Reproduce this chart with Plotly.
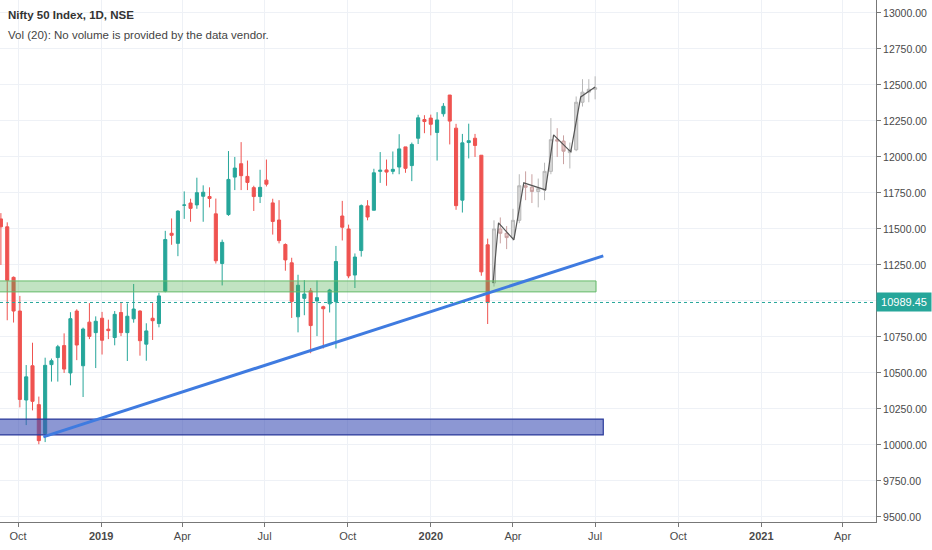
import pandas as pd
import plotly.graph_objects as go

# weekly candles (Sep 2018 - Mar 2020)
opens = [11570, 11515, 11164, 10930, 10312, 10550, 10280, 10078, 10558, 10607,
         10690, 10500, 10930, 10550, 10853, 10780, 10880, 10804, 10746, 10920,
         10780, 10876, 10930, 10700, 10880, 10843, 11068, 11470, 11400, 11665,
         11680, 11667, 11727, 11725, 11605, 11260, 11600, 11860, 11953, 11865,
         11787, 11725, 11839, 11681, 11562, 11392, 11265, 10890, 11018, 11070,
         11000, 10960, 10980, 10995, 11590, 11500, 11180, 11350, 11660, 11630,
         11900, 11910, 11900, 11930, 12070, 11940, 12130, 12260, 12270, 12170,
         12300, 12430, 12200, 11700, 12100, 12130, 12012, 11390]
highs = [11610, 11546, 11170, 11035, 10555, 10710, 10336, 10606, 10600, 10695,
         10775, 10922, 10942, 10815, 10985, 10893, 10924, 10870, 10930, 10988,
         10983, 11118, 10935, 10845, 10985, 11057, 11487, 11573, 11630, 11761,
         11710, 11856, 11803, 11789, 11711, 11426, 12041, 12000, 12103, 11975,
         11800, 11911, 11982, 11710, 11700, 11400, 11300, 11182, 11145, 11090,
         11142, 10967, 11084, 11382, 11695, 11530, 11330, 11670, 11700, 11918,
         12034, 11982, 12038, 12158, 12070, 12100, 12293, 12290, 12294, 12311,
         12374, 12430, 12230, 12160, 12231, 12160, 12012, 11433]
lows = [11250, 10866, 10850, 10261, 10138, 10240, 10005, 10020, 10440, 10440,
        10500, 10414, 10589, 10333, 10735, 10534, 10628, 10735, 10692, 10756,
        10583, 10849, 10620, 10585, 10729, 10817, 11060, 11390, 11311, 11570,
        11550, 11640, 11550, 11650, 11260, 11108, 11591, 11770, 11770, 11770,
        11625, 11680, 11795, 11461, 11400, 11210, 10882, 10782, 10901, 10637,
        10756, 10670, 10920, 10670, 11420, 11158, 11090, 11308, 11560, 11630,
        11820, 11800, 11880, 11880, 11890, 11832, 12090, 12165, 12150, 11975,
        12280, 12087, 11633, 11614, 11990, 12000, 11175, 10840]
closes = [11515, 11143, 10930, 10316, 10473, 10303, 10030, 10553, 10585, 10682,
          10527, 10877, 10694, 10805, 10754, 10859, 10727, 10794, 10907, 10780,
          10894, 10944, 10724, 10792, 10863, 11035, 11427, 11456, 11624, 11666,
          11643, 11752, 11755, 11712, 11279, 11407, 11844, 11923, 11870, 11823,
          11725, 11789, 11811, 11552, 11419, 11285, 10997, 11109, 11048, 10829,
          11023, 10946, 11076, 11274, 11512, 11174, 11305, 11662, 11583, 11890,
          11908, 11895, 11914, 12056, 11921, 12087, 12272, 12246, 12227, 12257,
          12352, 12249, 11662, 12098, 12113, 12080, 11202, 10989]
weeks = pd.date_range("2018-09-12", periods=len(closes), freq="W-WED")

# grey "bars pattern" projection (Mar - Jul 2020)
proj_open = [11125, 11500, 11470, 11440, 11560, 11800, 11790, 11760, 11770,
             11900, 12120, 12110, 12030, 12050, 12380, 12450, 12470]
proj_high = [11560, 11580, 11520, 11640, 11880, 11900, 11880, 11850, 11960,
             12270, 12200, 12150, 12100, 12420, 12540, 12540, 12560]
proj_low = [11100, 11400, 11360, 11420, 11540, 11700, 11680, 11650, 11700,
            11880, 12000, 11950, 11920, 12040, 12350, 12380, 12400]
proj_close = [11500, 11470, 11440, 11560, 11800, 11790, 11760, 11780, 11900,
              12120, 12110, 12040, 12050, 12380, 12450, 12470, 12480]
proj_weeks = pd.date_range("2020-03-11", periods=len(proj_close), freq="W-WED")
zig_dates = ["2020-03-10", "2020-03-16", "2020-04-02", "2020-04-13", "2020-05-07",
             "2020-05-16", "2020-06-04", "2020-06-15", "2020-07-01"]
zig_prices = [11125, 11542, 11424, 11820, 11771, 12153, 12035, 12417, 12486]

# drawings
trend_dates = ["2018-10-29", "2020-07-10"]
trend_prices = [10056, 11313]
green_zone = [11063, 11139]
blue_zone = [10070, 10180]
last_price = 10989.45

tick_dates = ["2018-10-01", "2019-01-01", "2019-04-01", "2019-07-01", "2019-10-01",
              "2020-01-01", "2020-04-01", "2020-07-01", "2020-10-01", "2021-01-01",
              "2021-04-01"]
tick_text = ["Oct", "<b>2019</b>", "Apr", "Jul", "Oct", "<b>2020</b>", "Apr", "Jul",
             "Oct", "<b>2021</b>", "Apr"]
price_ticks = [9500 + 250 * i for i in range(15)]

teal = "#26a69a"
red = "#ef5350"
font = "Liberation Sans, Arial"

fig = go.Figure()
fig.add_trace(go.Candlestick(
    x=weeks, open=opens, high=highs, low=lows, close=closes,
    increasing=dict(line=dict(color=teal, width=1), fillcolor=teal),
    decreasing=dict(line=dict(color=red, width=1), fillcolor=red),
    showlegend=False, hoverinfo="skip"))
fig.add_trace(go.Candlestick(
    x=proj_weeks, open=proj_open, high=proj_high, low=proj_low, close=proj_close,
    increasing=dict(line=dict(color="#b8b8b8", width=1), fillcolor="#d6d6d6"),
    decreasing=dict(line=dict(color="#c9a0a0", width=1), fillcolor="#e3c4c4"),
    showlegend=False, hoverinfo="skip"))
fig.add_trace(go.Scatter(x=zig_dates, y=zig_prices, mode="lines",
                         line=dict(color="#555555", width=1.2),
                         showlegend=False, hoverinfo="skip"))

fig.add_shape(type="rect", xref="x", yref="y", x0="2018-08-01", x1="2020-07-02",
              y0=green_zone[0], y1=green_zone[1], layer="above",
              fillcolor="rgba(76,175,80,0.35)", line=dict(color="#66bb6a", width=1))
fig.add_shape(type="rect", xref="x", yref="y", x0="2018-08-01", x1="2020-07-10",
              y0=blue_zone[0], y1=blue_zone[1], layer="above",
              fillcolor="rgba(63,81,181,0.6)", line=dict(color="#2a3a9a", width=1.2))
fig.add_shape(type="line", xref="x", yref="y", layer="above",
              x0=trend_dates[0], x1=trend_dates[1],
              y0=trend_prices[0], y1=trend_prices[1],
              line=dict(color="#3f7be0", width=3))
fig.add_shape(type="line", xref="paper", yref="y", x0=0, x1=1,
              y0=last_price, y1=last_price,
              line=dict(color=teal, width=1, dash="dot"))

fig.add_annotation(xref="paper", yref="y", x=1, y=last_price, xanchor="left",
                   xshift=0, text="%.2f" % last_price, showarrow=False,
                   width=52, height=16, align="center",
                   bgcolor=teal, font=dict(color="white", size=11, family=font))
fig.add_annotation(xref="paper", yref="paper", x=0, y=1, xanchor="left", yanchor="top",
                   xshift=6, yshift=-7, text="<b>Nifty 50 Index, 1D, NSE</b>",
                   showarrow=False, font=dict(color="#333", size=11.5, family=font))
fig.add_annotation(xref="paper", yref="paper", x=0, y=1, xanchor="left", yanchor="top",
                   xshift=6, yshift=-27, showarrow=False,
                   text="Vol (20): No volume is provided by the data vendor.",
                   font=dict(color="#444", size=11.5, family=font))

fig.update_layout(
    width=932, height=550,
    margin=dict(l=0, r=56, t=0, b=28),
    plot_bgcolor="white", paper_bgcolor="white",
    font=dict(family=font, size=11, color="#4a4a4a"),
    xaxis=dict(type="date", range=["2018-09-11", "2021-05-08"],
               tickvals=tick_dates, ticktext=tick_text,
               showgrid=True, gridcolor="#eef1f6", zeroline=False,
               showline=True, linecolor="#777", ticks="outside", ticklen=4,
               tickcolor="#777", rangeslider=dict(visible=False)),
    yaxis=dict(side="right", range=[9465, 13090], tickvals=price_ticks,
               tickformat=".2f", tickfont=dict(size=10.5),
               showgrid=True, gridcolor="#eef1f6",
               zeroline=False, showline=True, linecolor="#777",
               ticks="outside", ticklen=4, tickcolor="#777"),
)

fig.write_html("out.html", config={"displayModeBar": False},
               post_script="document.body.style.margin='0px';")
